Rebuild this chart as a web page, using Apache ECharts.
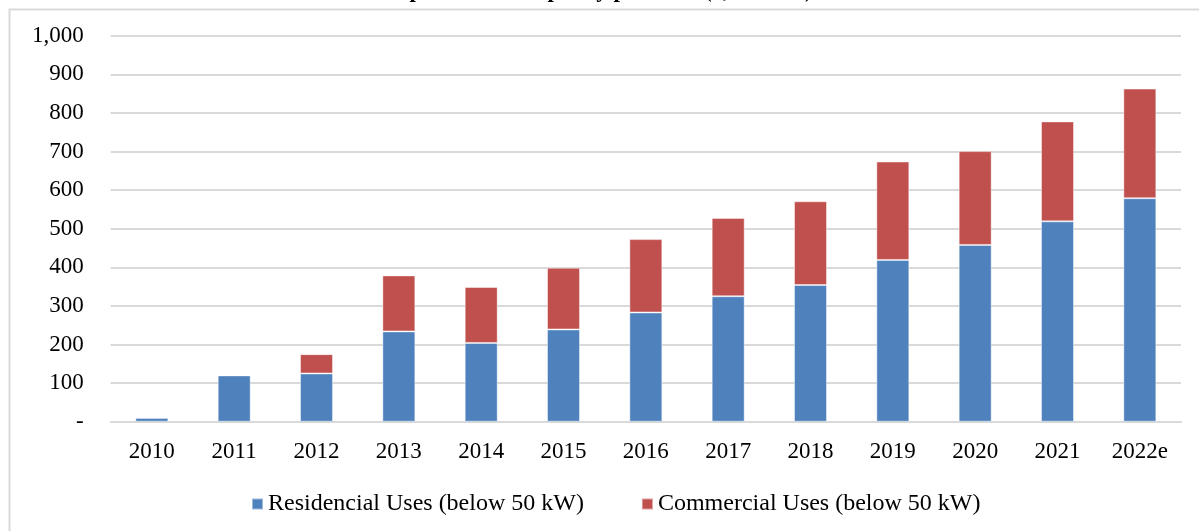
<!DOCTYPE html>
<html>
<head>
<meta charset="utf-8">
<script src="https://cdn.jsdelivr.net/npm/echarts@6/dist/echarts.min.js"></script>
<style>
html,body{margin:0;padding:0;background:#fff;}
#chart{width:1199px;height:531px;}
</style>
</head>
<body>
<div id="chart"></div>
<script>
const titleText = "Solar Rooftop Installed Capacity per Year (1,000 kW)";
const categories = ["2010","2011","2012","2013","2014","2015","2016","2017","2018","2019","2020","2021","2022e"];
const residential = [10,120,125,234,204,239,283,325,354,419,458,519,579];
const commercial = [0,0,50,145,145,160,190,203,217,255,243,259,284];
const seriesNames = ["Residencial Uses (below 50 kW)","Commercial Uses (below 50 kW)"];
const yTicks = {min:0, max:1000, interval:100};

const font = "'Liberation Serif','Times New Roman',serif";
const chart = echarts.init(document.getElementById('chart'), null, {renderer:'canvas'});
chart.setOption({
  animation:false,
  backgroundColor:'#fff',
  graphic:[{type:'rect', left:7, top:7, shape:{width:1300,height:700}, style:{fill:'none', stroke:'#d9d9d9', lineWidth:2}, z:-1}],
  title:{text:titleText, left:280, top:-25, textStyle:{fontFamily:font, fontSize:23, fontWeight:'bold', color:'#000'}},
  grid:{left:110.7, right:18, top:35.7, bottom:109.3, containLabel:false},
  legend:{
    data:seriesNames, left:251, top:492, padding:0, itemWidth:11, itemHeight:11, itemGap:57, icon:'rect',
    textStyle:{fontFamily:font, fontSize:24, color:'#000'}
  },
  xAxis:{
    type:'category', data:categories,
    axisLine:{lineStyle:{color:'#d9d9d9', width:2}},
    axisTick:{show:false},
    axisLabel:{fontFamily:font, fontSize:23, color:'#000', margin:19}
  },
  yAxis:{
    type:'value', min:yTicks.min, max:yTicks.max, interval:yTicks.interval,
    axisLine:{show:false}, axisTick:{show:false},
    splitLine:{lineStyle:{color:'#d9d9d9', width:2}},
    axisLabel:{fontFamily:font, fontSize:23, color:'#000', margin:27,
      formatter:v=> v===0 ? '-' : v.toLocaleString('en-US')}
  },
  series:[
    {name:seriesNames[0], type:'bar', stack:'t', data:residential, barWidth:33,
     itemStyle:{color:'#4F81BD', borderColor:'rgba(255,255,255,0.45)', borderWidth:1}},
    {name:seriesNames[1], type:'bar', stack:'t', data:commercial, barWidth:33,
     itemStyle:{color:'#C0504D', borderColor:'rgba(255,255,255,0.45)', borderWidth:1}}
  ]
});
</script>
</body>
</html>
